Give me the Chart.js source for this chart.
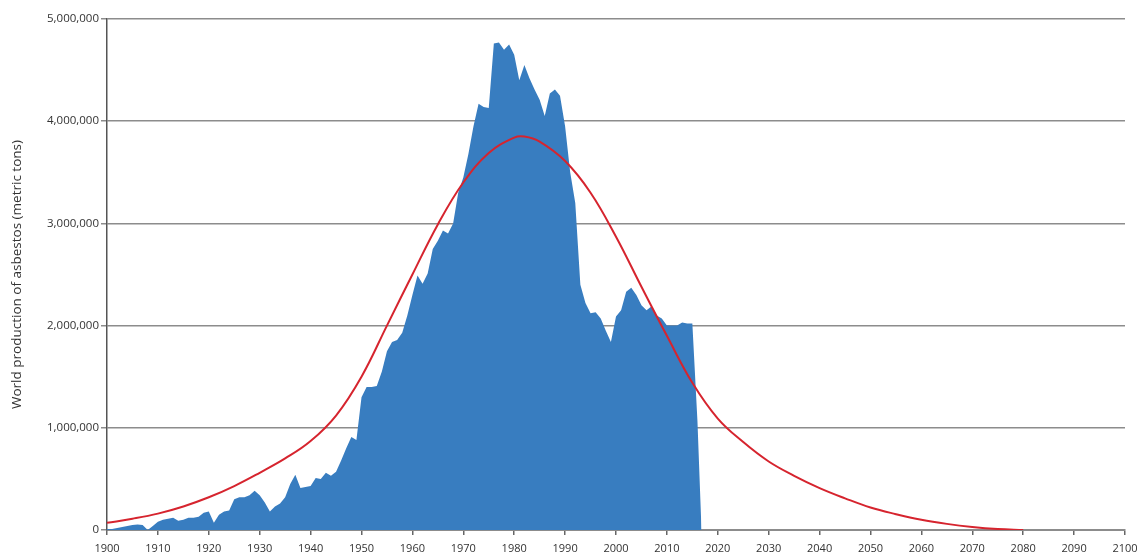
<!DOCTYPE html>
<html>
<head>
<meta charset="utf-8">
<script src="https://cdn.jsdelivr.net/npm/chart.js@4.4.1/dist/chart.umd.min.js"></script>
<style>
  html, body { margin: 0; padding: 0; background: #fff; }
  #wrap { width: 1142px; height: 559px; }
</style>
</head>
<body>
<div id="wrap"><canvas id="asbestosChart"></canvas></div>
<script>
// Yearly world production (metric tons)
const years = [
    1900, 1901, 1902, 1903, 1904, 1905, 1906, 1907, 1908, 1909,
    1910, 1911, 1912, 1913, 1914, 1915, 1916, 1917, 1918, 1919,
    1920, 1921, 1922, 1923, 1924, 1925, 1926, 1927, 1928, 1929,
    1930, 1931, 1932, 1933, 1934, 1935, 1936, 1937, 1938, 1939,
    1940, 1941, 1942, 1943, 1944, 1945, 1946, 1947, 1948, 1949,
    1950, 1951, 1952, 1953, 1954, 1955, 1956, 1957, 1958, 1959,
    1960, 1961, 1962, 1963, 1964, 1965, 1966, 1967, 1968, 1969,
    1970, 1971, 1972, 1973, 1974, 1975, 1976, 1977, 1978, 1979,
    1980, 1981, 1982, 1983, 1984, 1985, 1986, 1987, 1988, 1989,
    1990, 1991, 1992, 1993, 1994, 1995, 1996, 1997, 1998, 1999,
    2000, 2001, 2002, 2003, 2004, 2005, 2006, 2007, 2008, 2009,
    2010, 2011, 2012, 2013, 2014, 2015, 2016, 2016.8,
];
const production = [
    10000, 10000, 20000, 30000, 40000, 50000, 55000, 50000, 0, 40000,
    80000, 100000, 110000, 120000, 90000, 100000, 120000, 120000, 130000, 170000,
    180000, 70000, 150000, 180000, 190000, 300000, 320000, 320000, 340000, 385000,
    340000, 270000, 180000, 230000, 260000, 320000, 450000, 540000, 410000, 420000,
    430000, 510000, 500000, 560000, 530000, 570000, 680000, 800000, 910000, 880000,
    1300000, 1400000, 1400000, 1410000, 1550000, 1750000, 1840000, 1860000, 1930000, 2100000,
    2300000, 2490000, 2410000, 2510000, 2750000, 2830000, 2930000, 2900000, 3000000, 3300000,
    3450000, 3680000, 3950000, 4170000, 4140000, 4130000, 4760000, 4770000, 4700000, 4750000,
    4650000, 4400000, 4550000, 4420000, 4310000, 4210000, 4050000, 4270000, 4310000, 4250000,
    3950000, 3500000, 3200000, 2400000, 2220000, 2120000, 2130000, 2070000, 1950000, 1840000,
    2090000, 2150000, 2330000, 2370000, 2300000, 2200000, 2150000, 2190000, 2100000, 2070000,
    2000000, 2000000, 2000000, 2030000, 2020000, 2020000, 1070000, 0,
];

// Fitted curve (red line)
const fitYears = [
    1900, 1905, 1910, 1915, 1920, 1925, 1930, 1935, 1940, 1945,
    1950, 1955, 1960, 1965, 1970, 1975, 1980, 1982, 1985, 1990,
    1995, 2000, 2005, 2010, 2015, 2020, 2025, 2030, 2035, 2040,
    2045, 2050, 2055, 2060, 2065, 2070, 2075, 2080,
];
const fitValues = [
    70000, 110000, 160000, 230000, 320000, 430000, 560000, 700000, 870000, 1120000,
    1500000, 2000000, 2500000, 2990000, 3400000, 3690000, 3840000, 3850000, 3800000, 3610000,
    3300000, 2870000, 2380000, 1900000, 1440000, 1090000, 860000, 670000, 530000, 410000,
    310000, 220000, 155000, 100000, 60000, 30000, 10000, 0,
];

const yTicks = [0, 1000000, 2000000, 3000000, 4000000, 5000000];

const blue = 'rgb(56,125,192)';
const red = 'rgb(214,36,46)';
const gridGrey = 'rgb(140,140,140)';
const fontFamily = '"Open Sans", "Noto Sans", sans-serif';

const ctx = document.querySelector('#asbestosChart').getContext('2d');
new Chart(ctx, {
    type: 'line',
    data: {
        datasets: [{
            data: fitYears.map((x, i) => ({ x, y: fitValues[i] })),
            borderColor: red,
            borderWidth: 2,
            pointRadius: 0,
            tension: 0.4,
            fill: false,
            order: 0,
        }, {
            data: years.map((x, i) => ({ x, y: production[i] })),
            borderWidth: 0,
            borderColor: blue,
            backgroundColor: blue,
            pointRadius: 0,
            tension: 0,
            fill: 'origin',
            order: 1,
        }],
    },
    options: {
        responsive: true,
        maintainAspectRatio: false,
        animation: false,
        layout: {
            padding: { top: 19, right: 17, left: 0, bottom: 0 },
        },
        plugins: {
            legend: { display: false },
            tooltip: { enabled: false },
        },
        scales: {
            x: {
                type: 'linear',
                min: 1900,
                max: 2100,
                afterFit: (scale) => {
                    scale.height = 29;
                    scale.paddingLeft = 0;
                    scale.paddingRight = 0;
                },
                ticks: {
                    stepSize: 10,
                    autoSkip: false,
                    maxRotation: 0,
                    padding: 7,
                    color: '#333',
                    font: { family: fontFamily, size: 11 },
                    callback: (v) => String(v),
                },
                grid: {
                    drawOnChartArea: false,
                    drawTicks: true,
                    tickLength: 5,
                    color: '#666',
                    lineWidth: 1.5,
                },
                border: { color: gridGrey, width: 2 },
            },
            y: {
                min: 0,
                max: 5000000,
                afterFit: (scale) => {
                    scale.width = 107;
                    scale.paddingTop = 0;
                    scale.paddingBottom = 0;
                },
                afterBuildTicks: (scale) => {
                    scale.ticks = yTicks.map((value) => ({ value }));
                },
                ticks: {
                    padding: 2,
                    color: '#333',
                    font: { family: fontFamily, size: 11.5 },
                    callback: (v) => v.toLocaleString('en-US'),
                },
                grid: {
                    color: gridGrey,
                    lineWidth: 1.5,
                    tickLength: 6,
                },
                border: { color: '#555', width: 1.5 },
                title: {
                    display: true,
                    text: 'World production of asbestos (metric tons)',
                    color: '#333',
                    font: { family: fontFamily, size: 13.5 },
                    padding: { top: 9, bottom: 4 },
                },
            },
        },
    },
});
</script>
</body>
</html>
